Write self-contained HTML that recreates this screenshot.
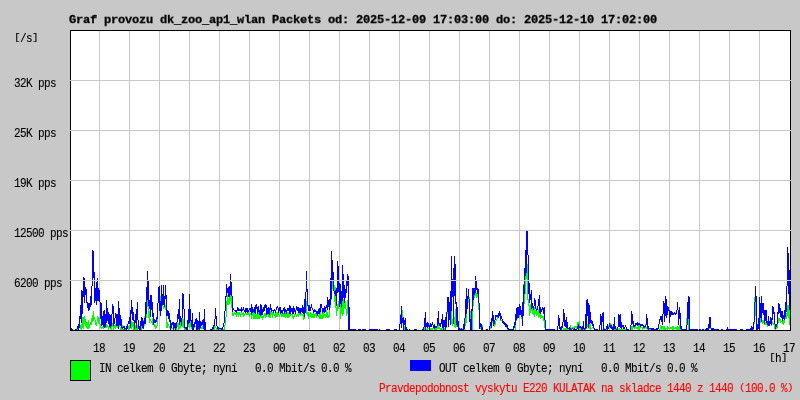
<!DOCTYPE html>
<html><head><meta charset="utf-8"><title>Graf provozu</title>
<style>
html,body{margin:0;padding:0;background:#c8c8c8;overflow:hidden}
#c{position:relative;width:800px;height:400px;background:#c8c8c8;overflow:hidden}
svg{position:absolute;left:0;top:0}
.s{position:absolute;font-family:"Liberation Mono",monospace;font-size:11px;letter-spacing:-0.601px;line-height:13px;height:13px;white-space:pre;
 transform-origin:0 0;transform:scaleY(1.18);will-change:transform;-webkit-text-stroke:0.1px currentColor}
.s i{display:inline-block;font-style:normal;transform:scaleY(0.72);transform-origin:50% 40%}
.t{position:absolute;left:69.4px;top:15px;font-family:"Liberation Mono",monospace;font-weight:bold;font-size:12px;letter-spacing:-0.201px;line-height:13px;height:13px;white-space:pre;
 transform-origin:0 0;transform:scaleY(0.9);will-change:transform;color:#000;-webkit-text-stroke:0.3px #000}
</style></head><body>
<div id="c">
<svg width="800" height="400" viewBox="0 0 800 400" shape-rendering="crispEdges">
<rect x="71" y="31" width="719" height="299" fill="#fff"/>
<path d="M99.5 31V330M129.5 31V330M159.5 31V330M189.5 31V330M219.5 31V330M249.5 31V330M279.5 31V330M309.5 31V330M339.5 31V330M369.5 31V330M399.5 31V330M429.5 31V330M459.5 31V330M489.5 31V330M519.5 31V330M549.5 31V330M579.5 31V330M609.5 31V330M639.5 31V330M669.5 31V330M699.5 31V330M729.5 31V330M759.5 31V330" stroke="#c8c8c8" stroke-width="1" fill="none"/>
<path d="M77.5 329V330M80.5 325V329M81.5 324V330M82.5 317V328M83.5 317V329M84.5 316V324M85.5 319V326M86.5 322V328M87.5 322V329M88.5 320V329M89.5 324V328M90.5 322V325M91.5 318V325M92.5 315V322M93.5 311V321M94.5 317V320M95.5 320V325M96.5 322V326M97.5 316V322M98.5 317V324M99.5 318V324M100.5 324V328M101.5 327V329M102.5 326V328M103.5 327V329M105.5 327V328M106.5 324V328M107.5 325V327M108.5 326V330M109.5 327V328M110.5 328V329M111.5 326V330M112.5 323V327M113.5 326V330M114.5 325V328M115.5 324V329M116.5 326V327M117.5 326V328M119.5 325V327M120.5 327V330M121.5 328V330M122.5 325V327M122.5 329V330M123.5 329V330M125.5 329V330M128.5 326V330M129.5 325V329M131.5 321V329M132.5 322V327M133.5 322V330M134.5 329V330M135.5 325V330M136.5 328V330M137.5 325V330M141.5 326V330M142.5 328V329M143.5 320V321M144.5 316V318M144.5 324V326M146.5 314V318M147.5 300V307M148.5 306V318M149.5 311V323M150.5 319V321M151.5 321V323M152.5 318V325M154.5 324V327M155.5 325V329M156.5 326V328M157.5 319V326M160.5 296V301M162.5 305V306M163.5 306V309M164.5 307V308M165.5 305V310M166.5 316V328M167.5 322V328M168.5 324V326M169.5 326V328M171.5 328V329M172.5 328V329M174.5 328V329M176.5 328V330M177.5 322V327M178.5 323V330M179.5 325V329M180.5 322V328M182.5 318V327M183.5 319V328M184.5 328V330M185.5 329V330M188.5 324V327M189.5 323V328M190.5 321V327M191.5 327V329M194.5 327V328M195.5 326V327M198.5 329V330M200.5 328V329M201.5 327V329M202.5 326V329M213.5 329V330M214.5 326V330M215.5 326V328M216.5 328V330M217.5 329V330M219.5 329V330M220.5 329V330M223.5 329V330M224.5 325V330M225.5 317V325M226.5 301V317M227.5 295V305M228.5 298V305M229.5 297V304M230.5 295V301M231.5 296V308M232.5 312V316M233.5 313V316M234.5 312V314M235.5 313V315M236.5 313V317M237.5 312V315M238.5 312V317M239.5 312V315M240.5 314V317M241.5 312V315M242.5 313V315M243.5 312V317M244.5 314V316M245.5 313V314M246.5 313V315M247.5 313V315M248.5 312V315M249.5 313V317M250.5 313V315M251.5 315V319M252.5 313V316M253.5 312V319M254.5 313V319M255.5 314V319M256.5 314V319M257.5 314V319M258.5 312V319M259.5 315V319M260.5 316V317M261.5 315V318M262.5 316V320M263.5 315V318M264.5 313V316M265.5 313V318M266.5 315V317M267.5 314V315M268.5 314V317M269.5 315V318M270.5 311V318M271.5 312V315M272.5 312V318M273.5 313V315M274.5 314V316M275.5 313V318M276.5 312V317M277.5 312V317M278.5 313V315M279.5 315V317M280.5 314V315M281.5 313V317M282.5 314V317M283.5 313V317M284.5 314V317M285.5 312V318M286.5 314V317M287.5 312V318M288.5 312V318M289.5 314V317M290.5 314V316M291.5 314V315M292.5 314V318M293.5 316V319M294.5 314V317M295.5 314V315M296.5 315V317M297.5 314V316M298.5 313V317M299.5 313V315M300.5 314V316M301.5 313V315M302.5 314V316M303.5 314V320M304.5 317V319M306.5 301V314M307.5 312V316M308.5 312V319M309.5 314V317M310.5 312V317M311.5 313V318M312.5 314V318M313.5 313V318M314.5 314V318M315.5 313V316M316.5 314V318M318.5 315V317M319.5 314V319M320.5 312V319M321.5 315V319M322.5 313V319M323.5 312V318M324.5 314V316M325.5 314V318M326.5 310V317M327.5 312V318M328.5 315V318M329.5 310V317M330.5 305V308M331.5 299V300M332.5 281V289M334.5 285V291M334.5 294V302M335.5 287V290M335.5 296V308M336.5 307V316M337.5 304V311M338.5 301V309M340.5 304V319M341.5 307V314M342.5 301V316M343.5 299V314M344.5 303V308M345.5 301V309M346.5 309V316M347.5 300V314M400.5 314V315M402.5 310V318M404.5 326V330M424.5 327V330M426.5 329V330M427.5 328V330M428.5 328V329M430.5 328V330M431.5 328V330M432.5 328V330M433.5 328V329M434.5 329V330M435.5 328V330M436.5 328V330M437.5 326V329M438.5 324V329M439.5 327V329M440.5 328V330M441.5 328V330M442.5 328V330M444.5 328V330M446.5 327V328M447.5 312V314M451.5 311V324M452.5 319V326M454.5 317V327M455.5 309V328M456.5 325V327M460.5 328V329M464.5 329V330M465.5 318V326M466.5 314V323M468.5 299V303M469.5 297V299M470.5 311V319M472.5 311V330M473.5 300V306M474.5 295V298M475.5 293V296M476.5 293V298M477.5 294V297M478.5 303V310M480.5 327V329M482.5 325V327M490.5 326V329M492.5 321V323M494.5 324V327M495.5 321V325M496.5 319V321M497.5 317V319M500.5 320V321M501.5 320V321M506.5 327V328M507.5 329V330M515.5 325V330M516.5 320V321M517.5 318V319M519.5 315V318M521.5 317V319M523.5 284V285M524.5 294V304M525.5 276V294M526.5 273V279M527.5 264V300M528.5 299V306M529.5 305V316M530.5 304V313M531.5 309V311M532.5 308V314M533.5 310V315M534.5 307V317M535.5 310V314M536.5 308V309M536.5 311V316M537.5 311V315M538.5 309V318M539.5 313V317M540.5 314V319M541.5 315V318M542.5 316V318M543.5 316V321M544.5 320V328M563.5 328V330M564.5 328V330M565.5 328V330M566.5 328V330M567.5 329V330M568.5 329V330M570.5 325V328M571.5 328V329M572.5 327V328M573.5 327V329M574.5 326V328M575.5 326V328M576.5 326V329M577.5 322V326M578.5 322V324M579.5 321V326M579.5 328V330M580.5 328V330M583.5 329V330M585.5 329V330M586.5 328V329M587.5 324V327M589.5 324V329M590.5 324V330M591.5 328V329M592.5 327V328M593.5 328V329M602.5 329V330M604.5 328V329M606.5 329V330M608.5 325V327M610.5 323V325M611.5 324V325M612.5 326V327M614.5 329V330M615.5 329V330M616.5 328V329M618.5 329V330M619.5 328V330M620.5 329V330M621.5 329V330M622.5 329V330M623.5 329V330M624.5 329V330M625.5 329V330M631.5 326V330M632.5 326V330M633.5 327V328M634.5 327V329M635.5 326V328M636.5 327V329M637.5 327V329M638.5 325V330M639.5 325V330M640.5 327V328M641.5 327V328M642.5 327V330M643.5 328V329M644.5 328V329M645.5 324V325M645.5 327V328M646.5 327V329M647.5 329V330M649.5 329V330M650.5 329V330M659.5 329V330M660.5 325V329M661.5 326V330M662.5 326V329M663.5 326V330M664.5 326V330M665.5 328V330M666.5 328V329M667.5 326V330M668.5 327V329M669.5 328V329M670.5 327V329M671.5 327V329M672.5 326V330M673.5 326V330M674.5 328V329M675.5 327V329M676.5 327V330M677.5 326V330M678.5 327V330M679.5 325V330M680.5 329V330M686.5 318V325M688.5 319V330M709.5 328V329M710.5 328V329M753.5 329V330M754.5 297V302M754.5 322V324M755.5 302V316M760.5 318V323M762.5 320V324M763.5 320V323M764.5 324V325M765.5 322V325M766.5 323V325M767.5 325V327M771.5 325V326M772.5 321V324M773.5 323V325M774.5 324V329M775.5 329V330M776.5 327V329M777.5 324V328M778.5 318V323M779.5 318V321M780.5 319V323M781.5 321V322M782.5 321V324M783.5 320V325M784.5 320V323M785.5 317V319M786.5 313V319M787.5 305V316M788.5 305V318M789.5 310V325" stroke="#00ff00" stroke-width="1" fill="none"/>
<path d="M71.5 328V330M72.5 329V330M75.5 329V330M76.5 329V330M77.5 326V329M78.5 324V330M79.5 316V328M80.5 305V319M81.5 290V323M82.5 291V314M83.5 277V297M84.5 278V303M85.5 287V295M86.5 289V303M87.5 302V308M88.5 303V311M89.5 303V310M90.5 296V307M91.5 286V305M92.5 250V286M93.5 251V278M94.5 272V303M95.5 288V301M96.5 282V305M97.5 278V301M98.5 288V301M99.5 290V302M100.5 302V319M101.5 303V326M102.5 316V325M103.5 311V327M104.5 310V328M105.5 314V327M106.5 300V323M107.5 308V321M108.5 312V324M109.5 314V327M110.5 315V328M111.5 314V326M112.5 304V314M113.5 306V326M114.5 318V324M115.5 313V318M116.5 314V326M117.5 314V326M118.5 301V329M119.5 308V325M120.5 315V326M121.5 319V328M122.5 327V329M123.5 326V328M124.5 326V330M125.5 328V329M126.5 326V330M127.5 324V329M128.5 321V324M129.5 317V324M130.5 310V328M131.5 300V314M132.5 307V320M133.5 312V321M134.5 320V329M135.5 314V323M136.5 309V328M137.5 302V320M138.5 320V329M139.5 326V330M140.5 321V330M141.5 317V326M142.5 318V328M143.5 321V329M144.5 318V324M145.5 302V324M146.5 287V314M147.5 271V300M148.5 280V306M149.5 300V309M150.5 295V317M151.5 295V310M152.5 302V317M153.5 313V325M154.5 319V323M155.5 320V323M156.5 317V322M157.5 303V319M158.5 287V303M159.5 286V311M160.5 301V316M161.5 285V311M162.5 294V305M163.5 285V305M164.5 296V307M165.5 285V299M166.5 295V316M167.5 310V316M168.5 311V319M169.5 313V322M170.5 320V330M171.5 323V328M172.5 322V325M173.5 322V330M174.5 323V328M175.5 323V330M176.5 322V328M177.5 314V322M178.5 309V319M179.5 299V325M180.5 316V322M181.5 318V326M182.5 293V318M183.5 294V309M184.5 309V328M185.5 327V329M186.5 327V330M187.5 320V330M188.5 309V324M189.5 294V323M190.5 309V321M191.5 320V327M192.5 313V330M193.5 324V330M194.5 322V327M195.5 319V324M196.5 318V330M197.5 320V330M198.5 321V329M199.5 312V330M200.5 321V328M201.5 322V326M202.5 320V325M203.5 319V329M204.5 309V330M205.5 322V330M210.5 329V330M211.5 329V330M212.5 327V330M213.5 325V329M214.5 319V326M215.5 308V319M216.5 316V326M217.5 326V329M218.5 327V330M219.5 328V329M220.5 328V329M221.5 328V330M222.5 327V330M223.5 323V327M224.5 311V323M225.5 296V311M226.5 284V297M227.5 288V293M228.5 287V297M229.5 286V297M230.5 274V295M231.5 282V296M232.5 296V312M233.5 308V310M234.5 310V311M235.5 310V312M236.5 310V313M237.5 307V311M238.5 308V311M239.5 309V311M240.5 309V311M241.5 307V312M242.5 309V311M243.5 307V310M244.5 310V312M245.5 308V313M246.5 308V312M247.5 308V313M248.5 310V312M249.5 308V310M250.5 308V312M251.5 304V315M252.5 307V313M253.5 309V312M254.5 307V313M255.5 305V314M256.5 304V309M257.5 307V314M258.5 306V312M259.5 310V315M260.5 304V316M261.5 305V315M262.5 309V315M263.5 307V312M264.5 305V311M265.5 304V308M266.5 305V315M267.5 308V314M268.5 307V314M269.5 308V315M270.5 304V310M271.5 308V312M272.5 310V311M273.5 310V313M274.5 309V311M275.5 310V313M276.5 307V310M277.5 306V308M278.5 308V313M279.5 307V311M280.5 307V314M281.5 310V313M282.5 310V314M283.5 308V311M284.5 307V314M285.5 309V312M286.5 310V314M287.5 308V311M288.5 308V311M289.5 305V314M290.5 306V314M291.5 308V312M292.5 308V314M293.5 306V314M294.5 308V312M295.5 310V314M296.5 306V310M297.5 307V311M298.5 307V313M299.5 308V313M300.5 308V314M301.5 308V312M302.5 305V313M303.5 307V314M304.5 299V317M305.5 292V313M306.5 271V292M307.5 289V306M308.5 305V311M309.5 305V311M310.5 307V311M311.5 304V308M312.5 308V310M313.5 310V313M314.5 309V312M315.5 310V312M316.5 311V314M317.5 311V316M318.5 309V314M319.5 308V314M320.5 304V312M321.5 304V308M322.5 308V313M323.5 308V312M324.5 306V313M325.5 307V312M326.5 305V308M327.5 297V310M328.5 300V307M329.5 299V310M330.5 278V305M331.5 251V299M332.5 260V280M333.5 272V291M334.5 291V294M335.5 290V296M336.5 288V306M337.5 261V293M338.5 266V292M339.5 283V307M340.5 284V304M341.5 291V307M342.5 265V301M343.5 274V298M344.5 285V303M345.5 289V298M346.5 280V293M347.5 274V286M348.5 276V330M349.5 307V330M350.5 329V330M351.5 329V330M352.5 329V330M353.5 329V330M354.5 329V330M355.5 329V330M358.5 329V330M359.5 329V330M360.5 329V330M362.5 329V330M363.5 329V330M364.5 329V330M365.5 329V330M369.5 329V330M370.5 329V330M371.5 329V330M372.5 329V330M373.5 329V330M374.5 329V330M375.5 329V330M376.5 329V330M377.5 329V330M379.5 329V330M386.5 329V330M387.5 329V330M388.5 329V330M389.5 329V330M394.5 329V330M395.5 329V330M396.5 329V330M399.5 324V330M400.5 315V324M401.5 306V328M402.5 318V323M403.5 317V330M404.5 320V325M405.5 318V330M406.5 327V330M407.5 329V330M409.5 329V330M414.5 329V330M415.5 329V330M416.5 329V330M422.5 329V330M423.5 327V330M424.5 318V327M425.5 312V330M426.5 323V327M427.5 322V328M428.5 323V327M429.5 325V330M430.5 323V327M431.5 324V327M432.5 322V325M433.5 325V328M434.5 324V329M435.5 326V328M436.5 326V328M437.5 318V326M438.5 311V324M439.5 323V326M440.5 323V327M441.5 319V324M442.5 314V328M443.5 320V330M444.5 320V327M445.5 317V330M446.5 312V327M447.5 297V312M448.5 297V327M449.5 302V320M450.5 291V325M451.5 256V311M452.5 279V297M453.5 268V324M454.5 256V296M455.5 264V304M456.5 302V325M457.5 307V327M458.5 321V330M459.5 328V330M460.5 329V330M461.5 328V330M462.5 329V330M463.5 324V330M464.5 318V329M465.5 299V318M466.5 288V314M467.5 296V309M468.5 289V299M469.5 299V322M470.5 319V330M471.5 309V330M472.5 288V311M473.5 288V300M474.5 288V295M475.5 276V293M476.5 281V290M477.5 288V294M478.5 289V303M479.5 303V329M480.5 323V327M481.5 324V330M482.5 327V330M486.5 329V330M487.5 329V330M489.5 326V330M490.5 322V326M491.5 318V328M492.5 311V321M493.5 315V326M494.5 320V324M495.5 315V320M496.5 315V317M497.5 315V317M498.5 313V318M499.5 311V316M500.5 313V320M501.5 316V319M502.5 319V323M503.5 321V324M504.5 322V325M505.5 323V327M506.5 324V327M507.5 325V329M508.5 328V330M509.5 329V330M510.5 329V330M511.5 329V330M512.5 329V330M513.5 326V330M514.5 322V328M515.5 314V325M516.5 308V320M517.5 307V318M518.5 307V318M519.5 304V315M520.5 306V315M521.5 310V317M522.5 302V326M523.5 285V316M524.5 268V294M525.5 250V276M526.5 231V273M527.5 231V255M528.5 255V294M529.5 283V303M530.5 294V300M531.5 290V309M532.5 303V308M533.5 306V310M534.5 298V306M535.5 300V309M536.5 309V311M537.5 306V310M538.5 299V306M539.5 295V313M540.5 307V314M541.5 309V312M542.5 307V310M543.5 308V314M544.5 307V320M545.5 320V330M546.5 329V330M547.5 329V330M548.5 329V330M549.5 329V330M550.5 329V330M551.5 329V330M552.5 329V330M553.5 329V330M554.5 329V330M557.5 326V330M558.5 315V326M559.5 318V329M560.5 327V330M561.5 326V330M562.5 322V328M563.5 309V322M564.5 313V326M565.5 320V327M566.5 317V328M567.5 322V329M568.5 328V329M569.5 327V330M570.5 328V330M571.5 329V330M572.5 328V329M573.5 329V330M574.5 328V330M575.5 329V330M576.5 329V330M577.5 326V329M578.5 324V330M579.5 326V328M580.5 326V328M581.5 327V330M582.5 326V330M583.5 321V329M584.5 328V330M585.5 314V329M586.5 300V328M587.5 299V316M588.5 303V328M589.5 305V324M590.5 312V323M591.5 320V324M592.5 321V326M593.5 324V328M594.5 328V330M595.5 329V330M596.5 329V330M597.5 329V330M599.5 325V330M600.5 314V325M601.5 316V330M602.5 313V322M603.5 312V330M604.5 329V330M605.5 329V330M606.5 326V329M607.5 324V330M608.5 327V329M609.5 323V327M610.5 325V328M611.5 325V329M612.5 327V330M613.5 324V330M614.5 317V329M615.5 326V329M616.5 329V330M617.5 327V330M618.5 314V327M619.5 315V327M620.5 314V328M621.5 322V329M622.5 325V327M623.5 325V329M624.5 327V329M625.5 325V327M626.5 327V330M627.5 329V330M628.5 329V330M630.5 325V330M631.5 311V325M632.5 314V324M633.5 321V327M634.5 325V327M635.5 323V326M636.5 323V325M637.5 322V326M638.5 323V325M639.5 323V325M640.5 324V327M641.5 324V326M642.5 324V326M643.5 325V328M644.5 326V328M645.5 325V327M646.5 314V325M647.5 318V329M648.5 326V330M649.5 328V329M650.5 328V329M651.5 328V330M652.5 328V330M653.5 328V330M654.5 329V330M655.5 329V330M656.5 328V330M657.5 328V330M658.5 324V329M659.5 319V324M660.5 316V320M661.5 316V322M662.5 314V325M663.5 301V314M664.5 303V322M665.5 296V316M666.5 299V318M667.5 306V315M668.5 307V311M669.5 310V323M670.5 311V317M671.5 311V315M672.5 312V315M673.5 313V315M674.5 312V314M675.5 313V315M676.5 310V314M677.5 302V310M678.5 310V325M679.5 307V319M680.5 313V329M681.5 326V330M682.5 329V330M683.5 329V330M684.5 329V330M685.5 329V330M686.5 325V330M687.5 302V325M688.5 296V319M689.5 297V330M690.5 329V330M691.5 329V330M692.5 329V330M693.5 329V330M694.5 329V330M695.5 329V330M696.5 329V330M697.5 329V330M699.5 329V330M700.5 329V330M702.5 329V330M703.5 329V330M705.5 329V330M706.5 328V330M707.5 328V330M708.5 324V330M709.5 317V328M710.5 317V328M711.5 328V330M712.5 328V330M713.5 328V330M714.5 329V330M715.5 329V330M716.5 329V330M717.5 329V330M718.5 329V330M721.5 329V330M722.5 329V330M726.5 329V330M727.5 327V330M728.5 329V330M729.5 329V330M730.5 329V330M731.5 329V330M732.5 329V330M733.5 329V330M734.5 329V330M735.5 329V330M736.5 329V330M740.5 329V330M741.5 329V330M742.5 329V330M746.5 329V330M747.5 329V330M748.5 329V330M749.5 329V330M750.5 328V330M751.5 326V330M752.5 327V330M753.5 322V329M754.5 302V322M755.5 286V302M756.5 296V330M757.5 324V330M758.5 318V329M759.5 297V330M760.5 303V318M761.5 296V322M762.5 303V313M763.5 303V315M764.5 310V324M765.5 310V321M766.5 310V323M767.5 321V325M768.5 316V326M769.5 321V326M770.5 317V324M771.5 318V325M772.5 306V320M773.5 307V314M774.5 312V324M775.5 324V329M776.5 324V327M777.5 312V324M778.5 303V314M779.5 304V313M780.5 308V317M781.5 311V318M782.5 311V321M783.5 315V319M784.5 310V320M785.5 302V317M786.5 286V312M787.5 247V286M788.5 253V294M789.5 270V310" stroke="#0000ff" stroke-width="1" fill="none"/>
<path d="M70.5 30V331M790.5 30V331M70 30.5H791M70 330.5H791" stroke="#000" stroke-width="1" fill="none"/>
<path d="M70 80.5H791M70 130.5H791M70 180.5H791M70 230.5H791M70 280.5H791" stroke="#c8c8c8" stroke-width="1" fill="none"/>
<rect x="70.5" y="360.5" width="20" height="20" fill="#00ff00" stroke="#000" stroke-width="1"/>
<rect x="410" y="360" width="21" height="11" fill="#0000ff"/>
</svg>
<span class="t">Graf provozu dk_zoo_ap1_wlan Packets od: 2025-12-09 17:03:00 do: 2025-12-10 17:02:00</span>
<span class="s" style="left:13.7px;top:30.6px;color:#000"><i>[</i>/s<i>]</i></span><span class="s" style="left:13.7px;top:75.6px;color:#000">32K pps</span><span class="s" style="left:13.7px;top:125.6px;color:#000">25K pps</span><span class="s" style="left:13.7px;top:175.6px;color:#000">19K pps</span><span class="s" style="left:13.7px;top:225.6px;color:#000">12500 pps</span><span class="s" style="left:13.7px;top:275.6px;color:#000">6200 pps</span><span class="s" style="left:92.7px;top:340.6px;color:#000">18</span><span class="s" style="left:122.7px;top:340.6px;color:#000">19</span><span class="s" style="left:152.7px;top:340.6px;color:#000">20</span><span class="s" style="left:182.7px;top:340.6px;color:#000">21</span><span class="s" style="left:212.7px;top:340.6px;color:#000">22</span><span class="s" style="left:242.7px;top:340.6px;color:#000">23</span><span class="s" style="left:272.7px;top:340.6px;color:#000">00</span><span class="s" style="left:302.7px;top:340.6px;color:#000">01</span><span class="s" style="left:332.7px;top:340.6px;color:#000">02</span><span class="s" style="left:362.7px;top:340.6px;color:#000">03</span><span class="s" style="left:392.7px;top:340.6px;color:#000">04</span><span class="s" style="left:422.7px;top:340.6px;color:#000">05</span><span class="s" style="left:452.7px;top:340.6px;color:#000">06</span><span class="s" style="left:482.7px;top:340.6px;color:#000">07</span><span class="s" style="left:512.7px;top:340.6px;color:#000">08</span><span class="s" style="left:542.7px;top:340.6px;color:#000">09</span><span class="s" style="left:572.7px;top:340.6px;color:#000">10</span><span class="s" style="left:602.7px;top:340.6px;color:#000">11</span><span class="s" style="left:632.7px;top:340.6px;color:#000">12</span><span class="s" style="left:662.7px;top:340.6px;color:#000">13</span><span class="s" style="left:692.7px;top:340.6px;color:#000">14</span><span class="s" style="left:722.7px;top:340.6px;color:#000">15</span><span class="s" style="left:752.7px;top:340.6px;color:#000">16</span><span class="s" style="left:782.7px;top:340.6px;color:#000">17</span><span class="s" style="left:768.7px;top:350.6px;color:#000"><i>[</i>h<i>]</i></span><span class="s" style="left:98.7px;top:360.6px;color:#000">IN celkem 0 Gbyte; nyn&iacute;   0.0 Mbit/s 0.0 %</span><span class="s" style="left:438.7px;top:360.6px;color:#000">OUT celkem 0 Gbyte; nyn&iacute;   0.0 Mbit/s 0.0 %</span><span class="s" style="left:378.7px;top:380.6px;color:#f00">Pravdepodobnost vyskytu E220 KULATAK na skladce 1440 z 1440 <i>(</i>100.0 %<i>)</i></span>
</div>
</body></html>
